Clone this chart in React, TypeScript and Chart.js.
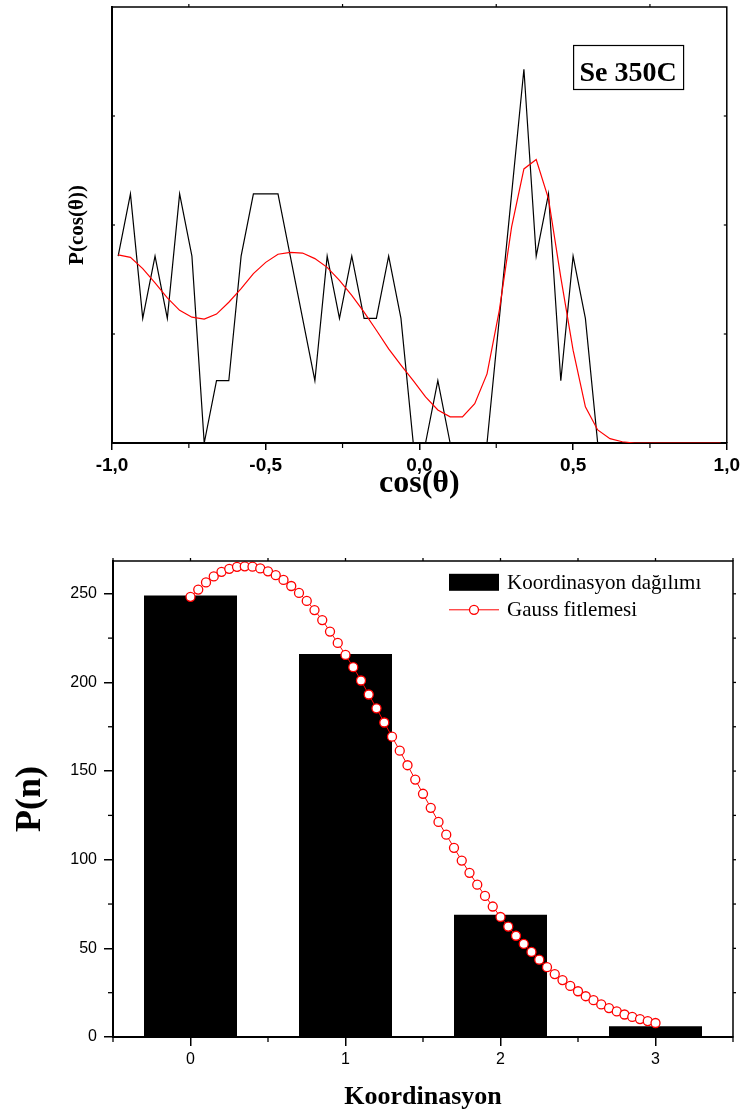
import React, { useEffect, useRef } from 'react';
import { Chart, registerables } from 'chart.js';

Chart.register(...registerables);

// ---------- Top chart: angular distribution ----------
const angleX = [
  -0.98, -0.94, -0.9, -0.86, -0.82, -0.78, -0.74, -0.7, -0.66, -0.62,
  -0.58, -0.54, -0.5, -0.46, -0.42, -0.38, -0.34, -0.3, -0.26, -0.22,
  -0.18, -0.14, -0.1, -0.06, -0.02, 0.02, 0.06, 0.1, 0.14, 0.18,
  0.22, 0.26, 0.3, 0.34, 0.38, 0.42, 0.46, 0.5, 0.54, 0.58,
  0.62, 0.66, 0.7, 0.74, 0.78, 0.82, 0.86, 0.9, 0.94, 0.98,
];
const angleCounts = [
  3, 4, 2, 3, 2, 4, 3, 0, 1, 1,
  3, 4, 4, 4, 3, 2, 1, 3, 2, 3,
  2, 2, 3, 2, 0, 0, 1, 0, 0, 0,
  0, 2, 4, 6, 3, 4, 1, 3, 2, 0,
  0, 0, 0, 0, 0, 0, 0, 0, 0, 0,
];
const angleFit = [
  3.02, 2.98, 2.8, 2.57, 2.33, 2.13, 2.02, 1.99, 2.07, 2.26,
  2.48, 2.72, 2.9, 3.03, 3.06, 3.05, 2.96, 2.82, 2.61, 2.37,
  2.1, 1.81, 1.51, 1.25, 1.0, 0.74, 0.53, 0.42, 0.42, 0.63,
  1.11, 2.13, 3.47, 4.4, 4.55, 3.92, 2.66, 1.49, 0.58, 0.21,
  0.07, 0.02, 0, 0, 0, 0, 0, 0, 0, 0,
];
const angleTickValues = [-1, -0.5, 0, 0.5, 1];
const angleTickLabels = ['-1,0', '-0,5', '0,0', '0,5', '1,0'];
const angleMinorTicks = [-0.75, -0.25, 0.25, 0.75];
const angleYTicks = [1.75, 3.5, 5.25];
const sampleLabel = 'Se 350C';

// ---------- Bottom chart: coordination distribution ----------
const coordN = [0, 1, 2, 3];
const coordCounts = [249, 216, 69, 6];
const coordTickLabels = ['0', '1', '2', '3'];
const gaussX = [
  0, 0.05, 0.1, 0.15, 0.2, 0.25, 0.3, 0.35, 0.4, 0.45,
  0.5, 0.55, 0.6, 0.65, 0.7, 0.75, 0.8, 0.85, 0.9, 0.95,
  1.0, 1.05, 1.1, 1.15, 1.2, 1.25, 1.3, 1.35, 1.4, 1.45,
  1.5, 1.55, 1.6, 1.65, 1.7, 1.75, 1.8, 1.85, 1.9, 1.95,
  2.0, 2.05, 2.1, 2.15, 2.2, 2.25, 2.3, 2.35, 2.4, 2.45,
  2.5, 2.55, 2.6, 2.65, 2.7, 2.75, 2.8, 2.85, 2.9, 2.95,
  3.0,
];
const gaussY = [
  248.3, 252.4, 256.4, 259.8, 262.4, 264.1, 265.2, 265.5, 265.3, 264.3,
  262.7, 260.5, 257.8, 254.4, 250.5, 246.0, 240.8, 235.2, 228.7, 222.3,
  215.5, 208.6, 201.1, 193.2, 185.4, 177.4, 169.4, 161.5, 153.3, 145.2,
  137.2, 129.3, 121.3, 114.1, 106.7, 99.5, 92.6, 85.9, 79.6, 73.6,
  67.7, 62.3, 57.1, 52.5, 48.0, 43.6, 39.4, 35.5, 32.1, 28.8,
  25.8, 23.0, 20.8, 18.4, 16.3, 14.4, 12.7, 11.3, 10.1, 9.0,
  7.9,
];
const coordYTicks = [0, 50, 100, 150, 200, 250];
const coordMinorX = [-0.5, 0.5, 1.5, 2.5, 3.5];
const coordTopTicks = [-0.5, 0, 0.5, 1, 1.5, 2, 2.5, 3, 3.5];
const coordMinorY = [25, 75, 125, 175, 225];
const coordRightTicks = [25, 50, 75, 100, 125, 150, 175, 200, 225, 250];
const barLabel = 'Koordinasyon dağılımı';
const fitLabel = 'Gauss fitlemesi';

const SERIF = '"Liberation Serif", "Times New Roman", serif';
const SANS = '"Liberation Sans", Arial, sans-serif';

function seg(ctx: CanvasRenderingContext2D, x1: number, y1: number, x2: number, y2: number) {
  ctx.beginPath();
  ctx.moveTo(x1, y1);
  ctx.lineTo(x2, y2);
  ctx.stroke();
}

const angleDecor = {
  id: 'angleDecor',
  afterDraw(chart: any) {
    const { ctx, chartArea: a, scales } = chart;
    const x = scales.x;
    const y = scales.y;
    ctx.save();
    ctx.strokeStyle = '#000';
    ctx.lineWidth = 1.5;
    ctx.beginPath();
    ctx.moveTo(a.left, a.top);
    ctx.lineTo(a.right, a.top);
    ctx.lineTo(a.right, a.bottom);
    ctx.stroke();
    ctx.lineWidth = 1.2;
    angleMinorTicks.forEach((v) => {
      const px = x.getPixelForValue(v);
      seg(ctx, px, a.bottom, px, a.bottom + 5);
      seg(ctx, px, a.top, px, a.top - 3);
    });
    angleYTicks.forEach((v) => {
      const py = y.getPixelForValue(v);
      seg(ctx, a.left, py, a.left + 3, py);
      seg(ctx, a.right, py, a.right - 3, py);
    });
    // sample label box
    const bx = x.getPixelForValue(0.5);
    const by = a.top + 38;
    const bw = 110;
    const bh = 44;
    ctx.fillStyle = '#fff';
    ctx.fillRect(bx, by, bw, bh);
    ctx.lineWidth = 1.2;
    ctx.strokeRect(bx + 0.5, by + 0.5, bw, bh);
    ctx.fillStyle = '#000';
    ctx.font = `bold 28px ${SERIF}`;
    ctx.textAlign = 'center';
    ctx.textBaseline = 'alphabetic';
    ctx.fillText(sampleLabel, bx + bw / 2, by + 36);
    ctx.restore();
  },
};

const coordDecor = {
  id: 'coordDecor',
  afterDraw(chart: any) {
    const { ctx, chartArea: a, scales } = chart;
    const x = scales.x;
    const y = scales.y;
    ctx.save();
    ctx.strokeStyle = '#000';
    ctx.lineWidth = 1.5;
    ctx.beginPath();
    ctx.moveTo(a.left, a.top);
    ctx.lineTo(a.right, a.top);
    ctx.lineTo(a.right, a.bottom);
    ctx.stroke();
    ctx.lineWidth = 1.3;
    coordMinorX.forEach((v) => {
      const px = x.getPixelForValue(v);
      seg(ctx, px, a.bottom, px, a.bottom + 5);
    });
    coordTopTicks.forEach((v) => {
      const px = x.getPixelForValue(v);
      seg(ctx, px, a.top, px, a.top - 3);
    });
    coordMinorY.forEach((v) => {
      const py = y.getPixelForValue(v);
      seg(ctx, a.left, py, a.left - 5, py);
    });
    coordRightTicks.forEach((v) => {
      const py = y.getPixelForValue(v);
      seg(ctx, a.right, py, a.right + 3, py);
    });
    // legend
    const lx = a.left + 336;
    const r1 = a.top + 21.3;
    const r2 = a.top + 48.8;
    ctx.fillStyle = '#000';
    ctx.fillRect(lx, r1 - 8.5, 50, 17);
    ctx.font = `21px ${SERIF}`;
    ctx.textAlign = 'left';
    ctx.textBaseline = 'middle';
    ctx.fillText(barLabel, lx + 58, r1 + 1);
    ctx.fillText(fitLabel, lx + 58, r2 + 1);
    ctx.strokeStyle = '#ff0000';
    ctx.lineWidth = 1;
    seg(ctx, lx, r2, lx + 50, r2);
    ctx.beginPath();
    ctx.arc(lx + 25, r2, 4.5, 0, Math.PI * 2);
    ctx.fillStyle = '#fff';
    ctx.fill();
    ctx.lineWidth = 1.3;
    ctx.stroke();
    ctx.restore();
  },
};

export default function App() {
  const topRef = useRef<HTMLCanvasElement>(null);
  const botRef = useRef<HTMLCanvasElement>(null);

  useEffect(() => {
    const c1 = new Chart(topRef.current as HTMLCanvasElement, {
      type: 'line',
      data: {
        datasets: [
          {
            label: 'P(cos(θ))',
            data: angleX.map((v, i) => ({ x: v, y: angleCounts[i] })),
            borderColor: '#000',
            borderWidth: 1.2,
            pointRadius: 0,
            tension: 0,
            order: 1,
          },
          {
            label: 'fit',
            data: angleX.map((v, i) => ({ x: v, y: angleFit[i] })),
            borderColor: '#ff0000',
            borderWidth: 1.2,
            pointRadius: 0,
            tension: 0,
            order: 0,
          },
        ],
      },
      options: {
        responsive: false,
        animation: false,
        devicePixelRatio: 1,
        layout: { padding: { top: 7, right: 17, left: 0, bottom: 0 } },
        plugins: { legend: { display: false }, tooltip: { enabled: false } },
        events: [],
        scales: {
          x: {
            type: 'linear',
            min: -1,
            max: 1,
            afterBuildTicks: (s: any) => { s.ticks = angleTickValues.map((v) => ({ value: v })); },
            afterFit: (s: any) => { s.height = 62; },
            border: { display: true, color: '#000', width: 2 },
            grid: { display: true, drawOnChartArea: false, drawTicks: true, tickLength: 7, color: '#000', lineWidth: 1.5 },
            ticks: {
              autoSkip: false,
              maxRotation: 0,
              padding: 4,
              color: '#000',
              font: { family: SANS, size: 19, weight: 'bold' },
              callback: (v: any) => angleTickLabels[angleTickValues.indexOf(Number(v))],
            },
            title: {
              display: true,
              text: 'cos(θ)',
              color: '#000',
              font: { family: SERIF, size: 32, weight: 'bold' },
              padding: { top: 0, bottom: 2 },
            },
          },
          y: {
            type: 'linear',
            min: 0,
            max: 7,
            afterFit: (s: any) => { s.width = 112; },
            border: { display: true, color: '#000', width: 2 },
            grid: { display: false },
            ticks: { display: false, stepSize: 1.75 },
            title: {
              display: true,
              text: 'P(cos(θ))',
              color: '#000',
              font: { family: SERIF, size: 21, weight: 'bold' },
              padding: { top: 65, bottom: 0 },
            },
          },
        },
      } as any,
      plugins: [angleDecor],
    });

    const c2 = new Chart(botRef.current as HTMLCanvasElement, {
      type: 'bar',
      data: {
        datasets: [
          {
            type: 'bar',
            label: barLabel,
            data: coordN.map((n, i) => ({ x: n, y: coordCounts[i] })),
            backgroundColor: '#000',
            borderWidth: 0,
            barPercentage: 0.6,
            categoryPercentage: 1,
            order: 1,
          } as any,
          {
            type: 'line',
            label: fitLabel,
            data: gaussX.map((v, i) => ({ x: v, y: gaussY[i] })),
            borderColor: '#ff0000',
            borderWidth: 1,
            pointRadius: 4.5,
            pointBorderWidth: 1.3,
            pointBorderColor: '#ff0000',
            pointBackgroundColor: '#ffffff',
            tension: 0,
            order: 0,
          } as any,
        ],
      },
      options: {
        responsive: false,
        animation: false,
        devicePixelRatio: 1,
        layout: { padding: { top: 56, right: 11, left: 0, bottom: 0 } },
        plugins: { legend: { display: false }, tooltip: { enabled: false } },
        events: [],
        scales: {
          x: {
            type: 'linear',
            min: -0.5,
            max: 3.5,
            offset: false,
            afterBuildTicks: (s: any) => { s.ticks = coordN.map((v) => ({ value: v })); },
            afterFit: (s: any) => { s.height = 78; },
            border: { display: true, color: '#000', width: 2 },
            grid: { display: true, offset: false, drawOnChartArea: false, drawTicks: true, tickLength: 9, color: '#000', lineWidth: 1.5 },
            ticks: {
              autoSkip: false,
              maxRotation: 0,
              padding: 4,
              color: '#000',
              font: { family: SANS, size: 16 },
              callback: (v: any) => coordTickLabels[coordN.indexOf(Number(v))],
            },
            title: {
              display: true,
              text: 'Koordinasyon',
              color: '#000',
              font: { family: SERIF, size: 26, weight: 'bold' },
              padding: { top: 0, bottom: 2 },
            },
          },
          y: {
            type: 'linear',
            min: 0,
            max: 268.5,
            afterBuildTicks: (s: any) => { s.ticks = coordYTicks.map((v) => ({ value: v })); },
            afterFit: (s: any) => { s.width = 113; },
            border: { display: true, color: '#000', width: 2 },
            grid: { display: true, drawOnChartArea: false, drawTicks: true, tickLength: 9, color: '#000', lineWidth: 1.5 },
            ticks: {
              padding: 7,
              color: '#000',
              font: { family: SANS, size: 16 },
              callback: (v: any) => String(v),
            },
            title: {
              display: true,
              text: 'P(n)',
              color: '#000',
              font: { family: SERIF, size: 36, weight: 'bold' },
              padding: { top: 9, bottom: 0 },
            },
          },
        },
      } as any,
      plugins: [coordDecor],
    });

    return () => {
      c1.destroy();
      c2.destroy();
    };
  }, []);

  return (
    <div style={{ position: 'absolute', left: 0, top: 0, width: 744, height: 1115, background: '#fff' }}>
      <canvas ref={topRef} width={744} height={505} style={{ position: 'absolute', left: 0, top: 0 }} />
      <canvas ref={botRef} width={744} height={610} style={{ position: 'absolute', left: 0, top: 505 }} />
    </div>
  );
}
